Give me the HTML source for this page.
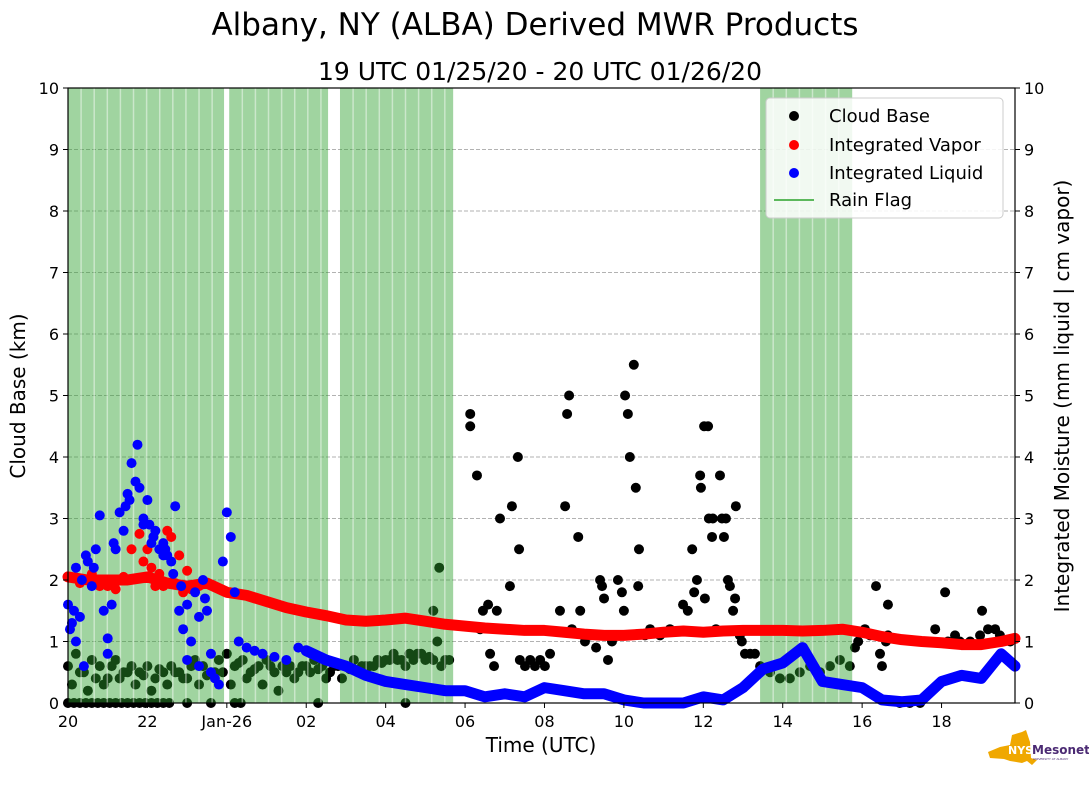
<!DOCTYPE html>
<html><head><meta charset="utf-8"><style>
body{margin:0;background:#fff;width:1089px;height:804px;overflow:hidden;font-family:"Liberation Sans","DejaVu Sans",sans-serif}
</style></head><body>
<svg id="chart" width="1089" height="804" viewBox="0 0 1089 804" xmlns="http://www.w3.org/2000/svg" font-family="DejaVu Sans, Liberation Sans, sans-serif">
<text x="535" y="35" font-size="31" text-anchor="middle">Albany, NY (ALBA) Derived MWR Products</text>
<text x="540" y="80" font-size="25" text-anchor="middle">19 UTC 01/25/20 - 20 UTC 01/26/20</text>
<g id="grid"></g>
<g id="black"></g>
<g id="rain"></g>
<g id="red"></g>
<g id="blue"></g>
<rect x="68" y="88" width="947" height="615" fill="none" stroke="#000" stroke-width="1.2"/>
<g id="axes" font-size="16"></g>
<text x="541" y="752" font-size="20" text-anchor="middle">Time (UTC)</text>
<text transform="translate(25,396) rotate(-90)" font-size="20" text-anchor="middle">Cloud Base (km)</text>
<text transform="translate(1069,396) rotate(-90)" font-size="20" text-anchor="middle">Integrated Moisture (mm liquid | cm vapor)</text>
<g>
<rect x="766" y="98" width="237" height="120" rx="4" fill="#fff" fill-opacity="0.85" stroke="#ccc"/>
<circle cx="794" cy="116" r="5" fill="#000"/><text x="829" y="122" font-size="18">Cloud Base</text>
<circle cx="794" cy="145" r="5" fill="#f00"/><text x="829" y="151" font-size="18">Integrated Vapor</text>
<circle cx="794" cy="173" r="5" fill="#00f"/><text x="829" y="179" font-size="18">Integrated Liquid</text>
<line x1="774" y1="200" x2="814" y2="200" stroke="#5cb85c" stroke-width="2"/><text x="829" y="206" font-size="18">Rain Flag</text>
</g>
<g>
<polygon points="1000,747 1010,745 1012,735 1022,732 1026,730 1030,742 1031,758 1037,760 1032,765 1027,761 1022,763 1010,761 1004,759 990,758 988,752" fill="#f0a800"/>
<text x="1008" y="754" font-size="11" font-weight="bold" fill="#fff">NYS</text>
<text x="1032" y="754" font-size="12" font-weight="bold" fill="#4b2a73">Mesonet</text>
<text x="1033" y="760" font-size="3" fill="#4b2a73">UNIVERSITY AT ALBANY</text>
</g>
</svg>
<script>
// hours since 20 UTC 01/25
const xTickLabels=["20","22","Jan-26","02","04","06","08","10","12","14","16","18"];
const yTickLabels=["0","1","2","3","4","5","6","7","8","9","10"];
const rainSpans=[[0,3.93],[4.06,6.55],[6.85,9.7],[17.43,19.75]];
const vaporT=[0,0.5,1,1.5,2,2.5,3,3.5,4,4.5,5,5.5,6,6.5,7,7.5,8,8.5,9,9.5,10,10.5,11,11.5,12,12.5,13,13.5,14,14.5,15,15.5,16,16.5,17,17.5,18,18.5,19,19.5,20,20.5,21,21.5,22,22.5,23,23.5,23.85];
const vaporV=[2.05,2.0,2.0,2.0,2.05,1.95,1.9,1.95,1.8,1.75,1.65,1.55,1.48,1.42,1.35,1.33,1.35,1.38,1.33,1.28,1.25,1.22,1.2,1.18,1.18,1.15,1.12,1.1,1.1,1.12,1.15,1.17,1.15,1.17,1.18,1.18,1.18,1.17,1.18,1.2,1.15,1.08,1.03,1.0,0.98,0.95,0.95,1.0,1.05];
const vaporScatT=[1.8,1.9,2.0,2.1,2.3,2.4,2.6,2.8,3.0,1.6,1.2,0.8,2.2,2.5,3.1,2.9,0.3,0.6,1.0,1.4,2.7,3.3];
const vaporScatV=[2.75,2.3,2.5,2.2,2.1,1.9,2.7,2.4,2.15,2.5,1.85,1.9,1.9,2.8,1.85,1.8,1.95,2.1,1.9,2.05,1.95,1.9];
const liquidT=[6,6.5,7,7.5,8,8.5,9,9.5,10,10.5,11,11.5,12,12.5,13,13.5,14,14.5,15,15.5,16,16.5,17,17.5,18,18.5,19,19.5,20,20.5,21,21.5,22,22.5,23,23.5,23.85];
const liquidV=[0.85,0.7,0.6,0.45,0.35,0.3,0.25,0.2,0.2,0.1,0.15,0.1,0.25,0.2,0.15,0.15,0.05,0.0,0.0,0.0,0.1,0.05,0.25,0.55,0.65,0.9,0.35,0.3,0.25,0.05,0.02,0.05,0.35,0.45,0.4,0.8,0.6];
const liquidScatT=[0,0.1,0.2,0.3,0.5,0.6,0.7,0.8,0.9,1.0,1.1,1.2,1.3,1.4,1.5,1.6,1.7,1.75,1.8,1.9,2.0,2.1,2.2,2.3,2.4,2.5,2.6,2.7,2.8,2.9,3.0,3.1,3.2,3.3,3.4,3.5,3.6,3.7,3.8,3.9,4.0,4.1,4.2,4.3,4.5,4.7,4.9,5.2,5.5,5.8,0.2,0.4,1.0,1.9,2.4,3.0,3.3,3.6,0.05,0.15,0.35,0.45,0.65,1.15,1.45,1.55,2.05,2.15,2.45,2.65,2.85,3.45];
const liquidScatV=[1.6,1.3,2.2,1.4,2.3,1.9,2.5,3.05,1.5,1.05,1.6,2.5,3.1,2.8,3.4,3.9,3.6,4.2,3.5,3.0,3.3,2.6,2.8,2.5,2.6,2.4,2.3,3.2,1.5,1.2,0.7,1.0,1.8,1.4,2.0,1.5,0.8,0.4,0.3,2.3,3.1,2.7,1.8,1.0,0.9,0.85,0.8,0.75,0.7,0.9,1.0,0.6,0.8,2.9,2.4,1.6,0.6,0.5,1.2,1.5,2.0,2.4,2.2,2.6,3.2,3.3,2.9,2.7,2.5,2.1,1.9,1.7];
const cloudT=[0,0.2,0.4,0.6,0.8,1.0,1.2,1.4,1.6,1.8,2.0,2.2,2.4,2.6,2.8,3.0,3.2,3.4,3.6,3.8,4.0,4.2,4.4,4.6,4.8,5.0,5.2,5.4,5.6,5.8,6.0,6.2,6.4,6.6,6.8,7.0,7.2,7.4,7.6,7.8,8.0,8.2,8.4,8.6,8.8,9.0,9.2,9.4,9.6,
0.1,0.5,0.9,1.3,1.7,2.1,2.5,2.9,3.3,3.7,4.1,4.5,4.9,5.3,5.7,6.1,6.5,6.9,7.3,7.7,8.1,8.5,8.9,9.3,
0.3,0.7,1.1,1.5,1.9,2.3,2.7,3.1,3.5,3.9,4.3,4.7,5.1,5.5,5.9,6.3,6.7,7.1,7.5,7.9,8.3,8.7,9.1,9.5,
0,0.15,0.3,0.45,0.6,0.75,0.9,1.05,1.2,1.35,1.5,1.65,1.8,1.95,2.1,2.25,2.4,2.55,3.0,3.6,4.2,4.35,6.3,8.5,9.2,9.35,
10.13,10.13,10.3,10.38,10.45,10.58,10.63,10.73,10.8,10.88,11.13,11.18,11.33,11.36,11.38,11.51,11.64,11.76,11.89,12.01,12.14,12.39,12.52,12.57,12.62,12.69,12.85,12.9,13.02,13.15,13.3,13.4,13.45,13.5,13.6,13.7,13.85,13.95,14.0,14.03,14.1,14.15,14.25,14.3,14.36,14.38,14.53,14.66,14.91,15.16,15.49,15.61,15.72,15.77,15.84,15.92,15.94,16.02,16.04,16.12,16.14,16.22,16.24,16.32,16.42,16.47,16.52,16.57,16.62,16.67,16.75,16.8,16.82,16.92,16.97,17.05,17.18,17.3,17.43,17.68,17.93,18.18,18.43,18.69,18.94,19.19,19.44,19.69,19.82,19.9,20.07,20.2,20.35,20.45,20.5,20.6,20.65,20.65,20.95,21.2,21.46,21.84,22.09,22.16,22.34,22.46,22.72,22.97,23.02,23.17,23.35,23.47,23.73];
const cloudV=[0.6,0.8,0.5,0.7,0.6,0.4,0.7,0.5,0.6,0.5,0.6,0.4,0.5,0.6,0.5,0.4,0.7,0.6,0.5,0.7,0.8,0.6,0.7,0.5,0.6,0.7,0.5,0.6,0.6,0.5,0.6,0.7,0.6,0.5,0.6,0.6,0.7,0.6,0.6,0.7,0.7,0.8,0.7,0.8,0.8,0.7,0.7,0.6,0.7,
0.3,0.2,0.3,0.4,0.3,0.2,0.3,0.4,0.3,0.5,0.3,0.4,0.3,0.2,0.4,0.5,0.4,0.4,0.5,0.6,0.7,0.6,0.8,1.0,
0.5,0.4,0.6,0.5,0.45,0.55,0.5,0.6,0.45,0.5,0.65,0.55,0.6,0.5,0.6,0.55,0.6,0.55,0.6,0.65,0.7,0.7,0.75,0.7,
0,0,0,0,0,0,0,0,0,0,0,0,0,0,0,0,0,0,0,0,0,0,0,0,1.5,2.2,
4.5,4.7,3.7,1.2,1.5,1.6,0.8,0.6,1.5,3.0,1.9,3.2,4.0,2.5,0.7,0.6,0.7,0.6,0.7,0.6,0.8,1.5,3.2,4.7,5.0,1.2,2.7,1.5,1.0,1.1,0.9,2.0,1.9,1.7,0.7,1.0,2.0,1.8,1.5,5.0,4.7,4.0,5.5,3.5,1.9,2.5,1.1,1.2,1.1,1.2,1.6,1.5,2.5,1.8,2.0,3.7,3.5,4.5,1.7,4.5,3.0,2.7,3.0,1.2,3.7,3.0,2.7,3.0,2.0,1.9,1.5,1.7,3.2,1.1,1.0,0.8,0.8,0.8,0.6,0.5,0.4,0.4,0.5,0.6,0.5,0.6,0.7,0.6,0.9,1.0,1.2,1.1,1.9,0.8,0.6,1.0,1.6,1.1,0.0,0.0,0.0,1.2,1.8,1.0,1.1,1.0,1.0,1.1,1.5,1.2,1.2,1.1,1.0];

const X0=68,X1=1015,TMAX=23.85,Y0=703,Y1=88;
const xs=t=>X0+(t/TMAX)*(X1-X0);
const ys=v=>Y0-(v/10)*(Y0-Y1);
const NS="http://www.w3.org/2000/svg";
function mk(tag,parent){const e=document.createElementNS(NS,tag);document.getElementById(parent).appendChild(e);return e;}

yTickLabels.forEach((lab,i)=>{
  const v=+lab,y=ys(v);
  if(v>0&&v<10){const g=mk('line','grid');
    
    
    g.setAttribute('x1',X0);g.setAttribute('x2',X1);g.setAttribute('y1',y);g.setAttribute('y2',y);g.setAttribute('stroke','#999');g.setAttribute('stroke-dasharray','4,2');g.setAttribute('stroke-width','0.8');}
  [[X0,-1],[X1,1]].forEach(([x,d])=>{
    const tk=mk('line','axes');
    
    
    tk.setAttribute('x1',x);tk.setAttribute('x2',x+d*5);tk.setAttribute('y1',y);tk.setAttribute('y2',y);tk.setAttribute('stroke','#000');
    const tx=mk('text','axes');
    
    
    tx.setAttribute('x',x+d*9);tx.setAttribute('y',y+6);tx.setAttribute('text-anchor',d<0?'end':'start');tx.textContent=lab;
  });
});
xTickLabels.forEach((lab,i)=>{
  const x=xs(i*2);
  const tk=mk('line','axes');
  
  
  tk.setAttribute('x1',x);tk.setAttribute('x2',x);tk.setAttribute('y1',Y0);tk.setAttribute('y2',Y0+5);tk.setAttribute('stroke','#000');
  const tx=mk('text','axes');
  
  
  tx.setAttribute('x',x);tx.setAttribute('y',Y0+24);tx.setAttribute('text-anchor','middle');tx.textContent=lab;
});

function dots(T,V,parent,color,name){
  T.forEach((t,i)=>{const c=mk('circle',parent);
    
    
    c.setAttribute('cx',xs(t));c.setAttribute('cy',ys(V[i]));c.setAttribute('r',5);c.setAttribute('fill',color);});
}
function band(T,V,parent,color,name){
  const p=mk('polyline',parent);
  
  
  p.setAttribute('points',T.map((t,i)=>xs(t)+','+ys(V[i])).join(' '));
  p.setAttribute('fill','none');p.setAttribute('stroke',color);p.setAttribute('stroke-width','11');p.setAttribute('stroke-linejoin','round');p.setAttribute('stroke-linecap','round');
}
dots(cloudT,cloudV,'black','#000','cloud-base-point');

rainSpans.forEach(([a,b])=>{
  const r=mk('rect','rain');
  
  
  r.setAttribute('x',xs(a));r.setAttribute('y',Y1);r.setAttribute('width',xs(b)-xs(a));r.setAttribute('height',Y0-Y1);r.setAttribute('fill','#2ca02c');r.setAttribute('fill-opacity','0.45');
  for(let t=a+0.33;t<b-0.1;t+=0.33){const l=mk('line','rain');
    
    
    l.setAttribute('x1',xs(t));l.setAttribute('x2',xs(t));l.setAttribute('y1',Y1);l.setAttribute('y2',Y0);l.setAttribute('stroke','#fff');l.setAttribute('stroke-opacity','0.45');l.setAttribute('stroke-width','1.5');}
});

band(vaporT,vaporV,'red','#f00','vapor-series');
dots(vaporScatT,vaporScatV,'red','#f00','vapor-point');
band(liquidT,liquidV,'blue','#00f','liquid-series');
dots(liquidScatT,liquidScatV,'blue','#00f','liquid-point');
</script>
</body></html>
